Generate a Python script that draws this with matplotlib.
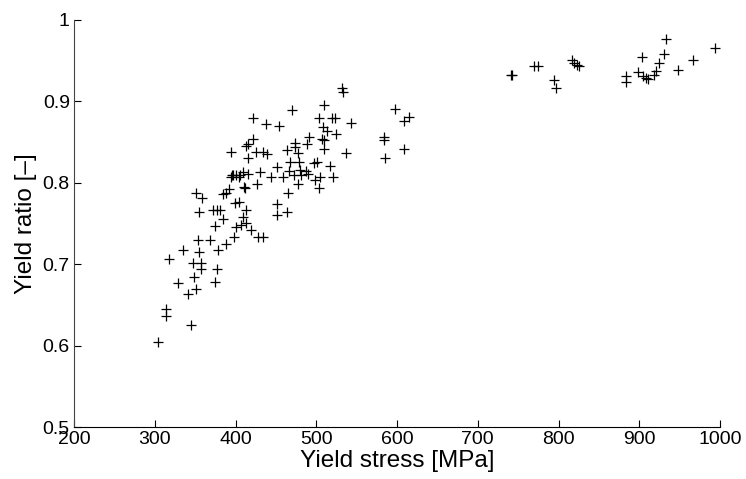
import matplotlib
matplotlib.use("Agg")
import matplotlib.pyplot as plt

# Yield stress [MPa] and yield ratio [-]
stress = [304, 314, 314, 345, 318, 329, 335, 341, 347, 348, 351, 353, 351, 355, 355,
          357, 357, 359, 369, 372, 377, 375, 375, 377, 378, 381, 384, 385, 388, 388,
          392, 394, 397, 394, 398, 399, 400, 404, 404, 407, 409, 410, 412, 413, 409,
          415, 413, 415, 416, 413, 419, 422, 422, 426, 427, 428, 430, 434, 434, 438,
          439, 444, 452, 452, 452, 454, 459, 464, 464, 465, 467, 466, 470, 473, 474,
          474, 477, 477, 479, 480, 481, 487, 489, 490, 491, 497, 499, 501, 503, 503,
          505, 507, 508, 509, 510, 510, 513, 517, 520, 521, 523, 525, 532, 533, 537,
          543, 584, 584, 585, 597, 609, 609, 615, 401, 406, 396,
          741, 743, 770, 775, 795, 797, 817, 819, 823, 825, 883, 883, 898, 904, 905,
          908, 911, 918, 921, 925, 931, 933, 948, 967, 994]
ratio = [0.605, 0.645, 0.636, 0.625, 0.706, 0.677, 0.717, 0.663, 0.701, 0.684, 0.669,
         0.730, 0.788, 0.764, 0.715, 0.701, 0.694, 0.781, 0.730, 0.766, 0.766, 0.747,
         0.678, 0.694, 0.717, 0.766, 0.786, 0.756, 0.725, 0.788, 0.792, 0.838, 0.809,
         0.807, 0.733, 0.775, 0.746, 0.777, 0.807, 0.748, 0.813, 0.795, 0.793, 0.751,
         0.758, 0.848, 0.845, 0.831, 0.811, 0.766, 0.742, 0.854, 0.879, 0.838, 0.799,
         0.734, 0.813, 0.733, 0.838, 0.872, 0.835, 0.807, 0.819, 0.774, 0.760, 0.870,
         0.807, 0.840, 0.764, 0.788, 0.826, 0.815, 0.890, 0.809, 0.849, 0.844, 0.836,
         0.799, 0.826, 0.816, 0.809, 0.815, 0.848, 0.811, 0.856, 0.824, 0.804, 0.826,
         0.879, 0.793, 0.807, 0.854, 0.869, 0.852, 0.895, 0.842, 0.864, 0.821, 0.879,
         0.807, 0.879, 0.860, 0.917, 0.911, 0.836, 0.873, 0.856, 0.852, 0.831, 0.891,
         0.842, 0.876, 0.881, 0.809, 0.809, 0.809,
         0.933, 0.933, 0.943, 0.943, 0.926, 0.917, 0.951, 0.947, 0.945, 0.943, 0.931,
         0.924, 0.936, 0.955, 0.931, 0.929, 0.928, 0.932, 0.937, 0.947, 0.958, 0.977,
         0.939, 0.951, 0.966]

plt.rcParams["font.family"] = ["Liberation Sans", "DejaVu Sans"]

fig = plt.figure(figsize=(7.46, 4.79), dpi=100)
# axes box in pixels: left 74, right 720, top 20, bottom 427
ax = fig.add_axes([74 / 746, 1 - 427 / 479, 646 / 746, 407 / 479])

ax.plot(stress, ratio, "+", color="black", markersize=7.5, markeredgewidth=0.9)

ax.set_xlim(200, 1000)
ax.set_ylim(0.5, 1)
ax.set_xticks(range(200, 1001, 100))
ax.set_yticks([0.5, 0.6, 0.7, 0.8, 0.9, 1])
ax.set_yticklabels(["0.5", "0.6", "0.7", "0.8", "0.9", "1"])

ax.spines["top"].set_visible(False)
ax.spines["right"].set_visible(False)
ax.spines["left"].set_color("#444444")
ax.tick_params(direction="in", length=5, labelsize=14, pad=3)

ax.set_xlabel("Yield stress [MPa]", fontsize=17.5, labelpad=1)
ax.set_ylabel("Yield ratio [\u2013]", fontsize=17.5, labelpad=4)

fig.savefig("out.png", dpi=100)
